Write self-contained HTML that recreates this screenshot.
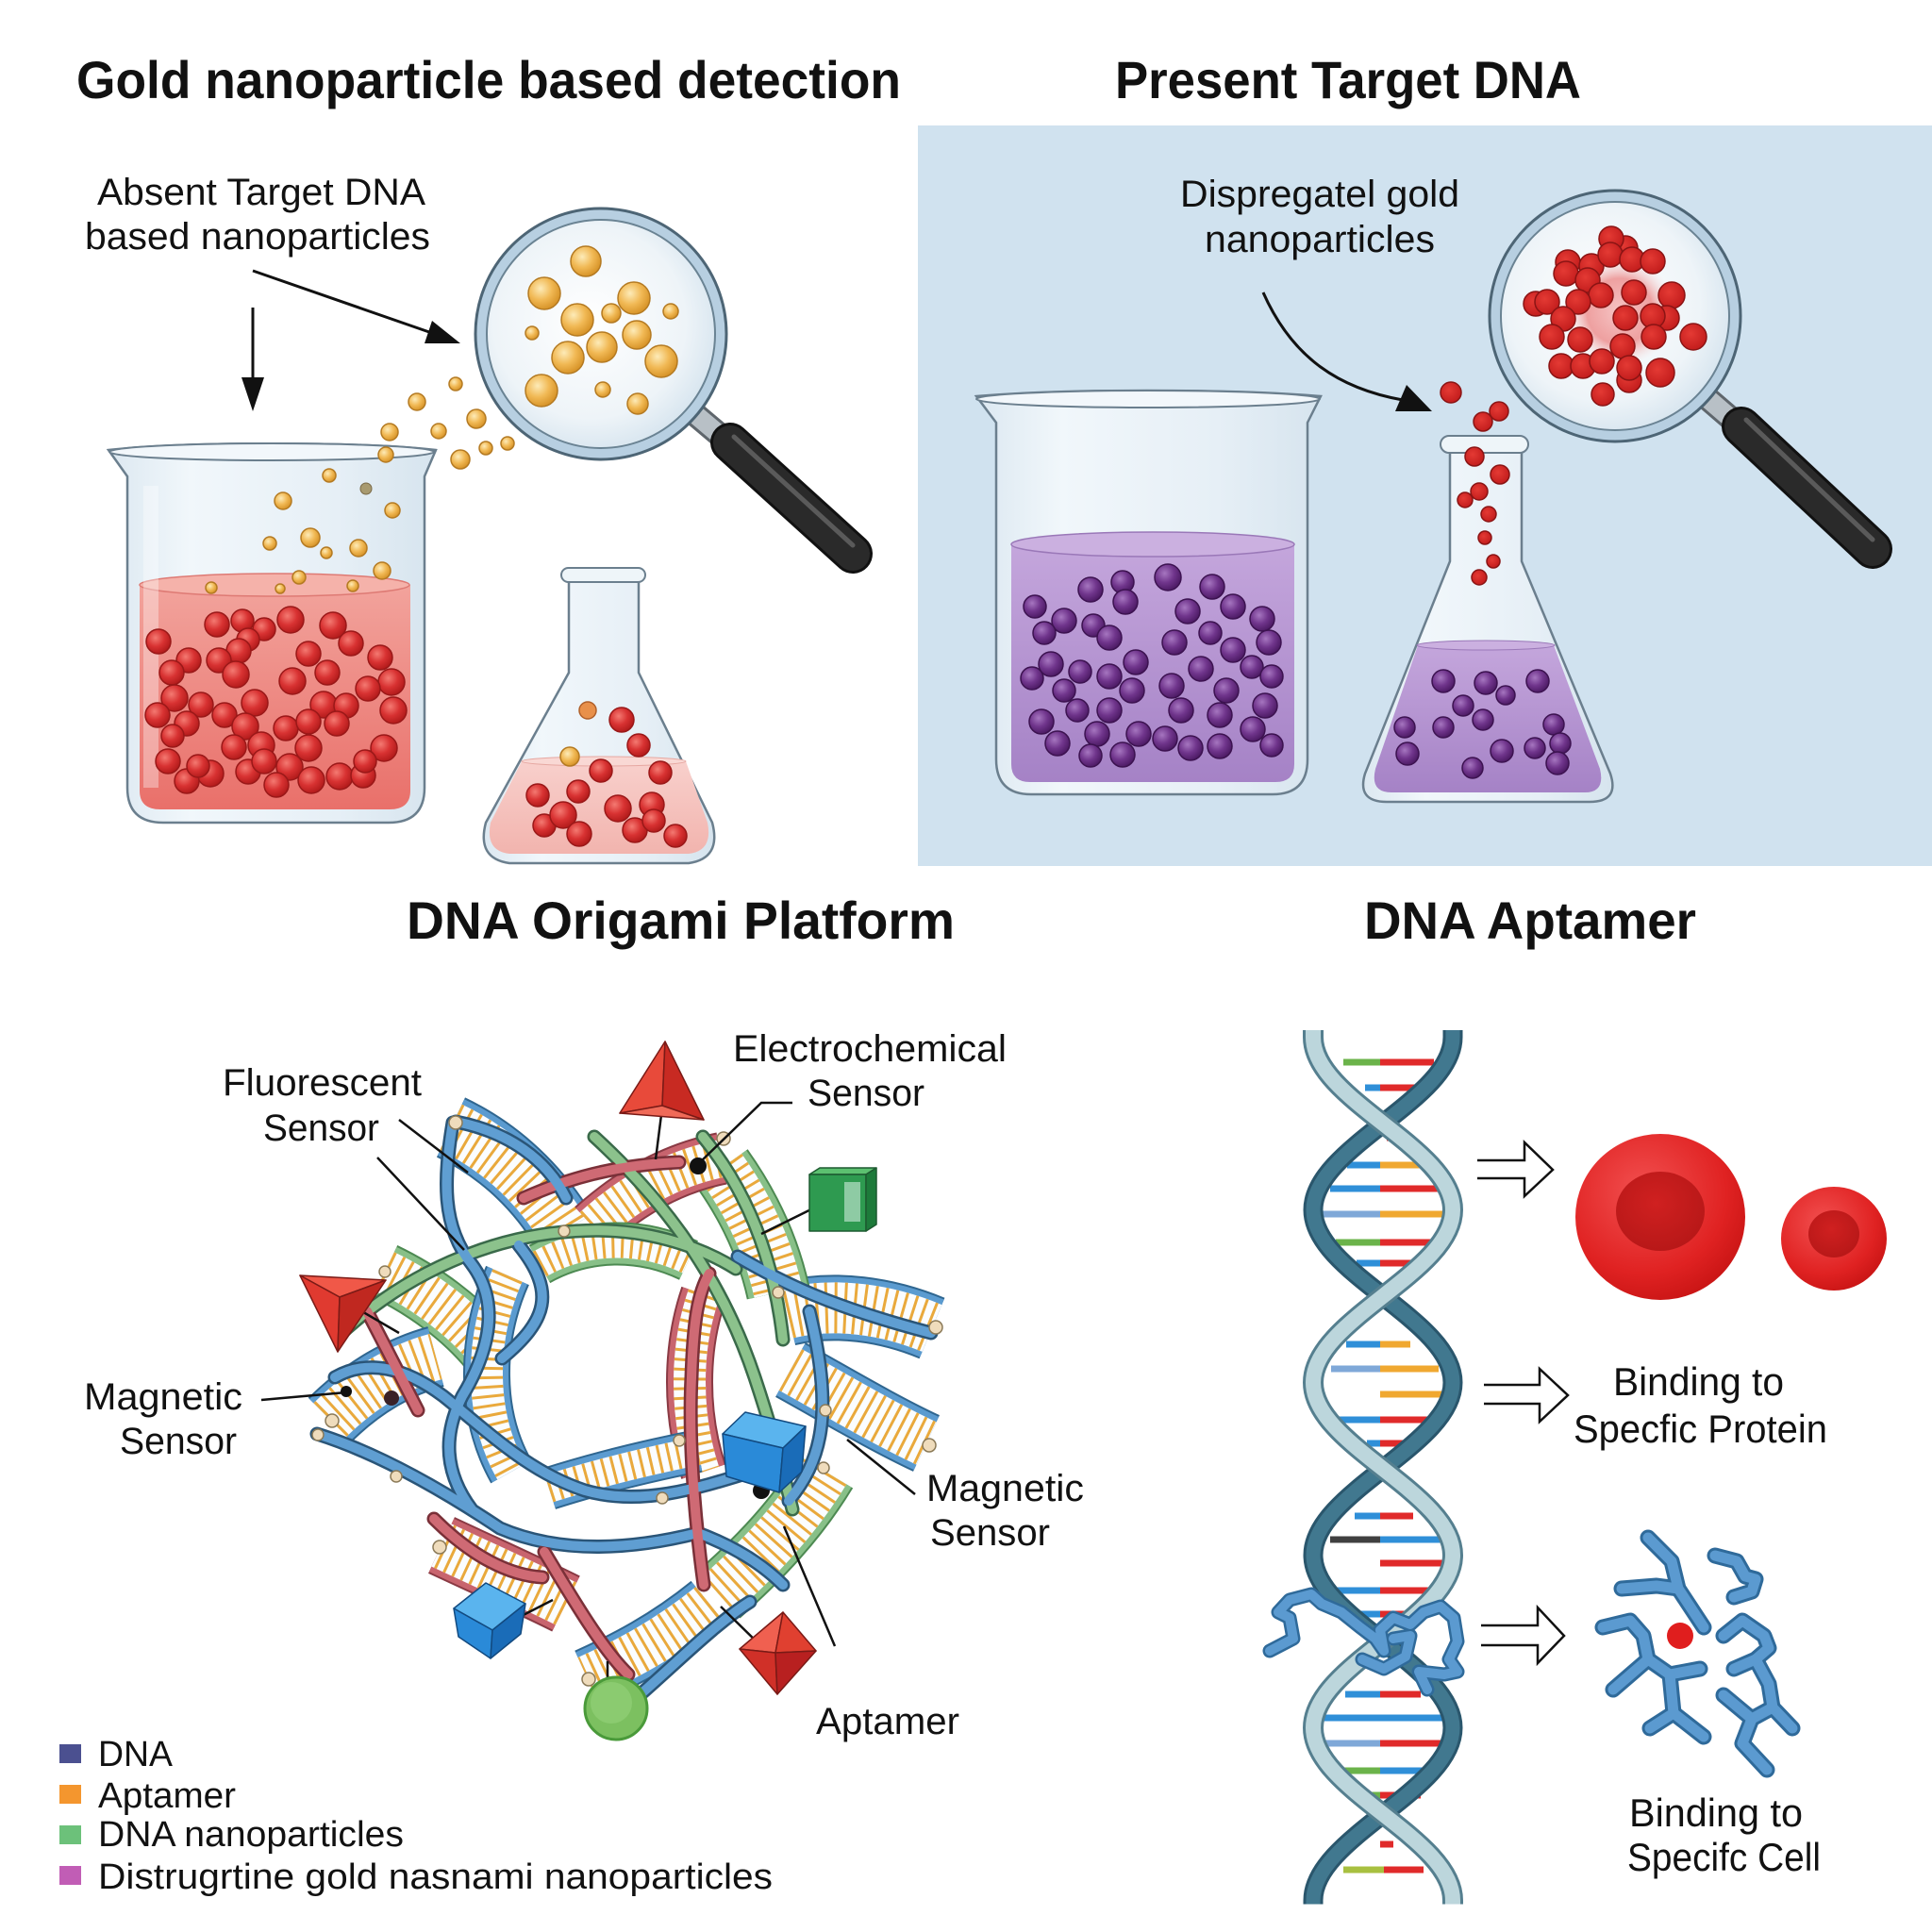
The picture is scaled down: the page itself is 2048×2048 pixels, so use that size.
<!DOCTYPE html>
<html><head><meta charset="utf-8"><style>html,body{margin:0;padding:0;background:#fff}svg{display:block}</style></head>
<body>
<svg width="2048" height="2048" viewBox="0 0 2048 2048" xmlns="http://www.w3.org/2000/svg" font-family="'Liberation Sans', sans-serif">
<defs>
<radialGradient id="gGold" cx="38%" cy="35%" r="65%"><stop offset="0" stop-color="#fdebb8"/><stop offset="0.55" stop-color="#f1b955"/><stop offset="1" stop-color="#d8952a"/></radialGradient>
<radialGradient id="gRed" cx="38%" cy="35%" r="65%"><stop offset="0" stop-color="#f47a72"/><stop offset="0.55" stop-color="#d83232"/><stop offset="1" stop-color="#b41c1c"/></radialGradient>
<radialGradient id="gRed2" cx="40%" cy="38%" r="65%"><stop offset="0" stop-color="#e43a34"/><stop offset="1" stop-color="#c21c1c"/></radialGradient>
<radialGradient id="gPur" cx="38%" cy="35%" r="65%"><stop offset="0" stop-color="#a676c0"/><stop offset="0.55" stop-color="#70358c"/><stop offset="1" stop-color="#4e1c66"/></radialGradient>
<radialGradient id="gLens" cx="45%" cy="45%" r="60%"><stop offset="0" stop-color="#ffffff"/><stop offset="0.7" stop-color="#eef4f8"/><stop offset="1" stop-color="#d4e3ee"/></radialGradient>
<radialGradient id="gGlow" cx="50%" cy="50%" r="50%"><stop offset="0" stop-color="#f6c4c4"/><stop offset="0.6" stop-color="#eea0a0"/><stop offset="1" stop-color="#f3dede" stop-opacity="0"/></radialGradient>
<linearGradient id="gGlass" x1="0" y1="0" x2="1" y2="0"><stop offset="0" stop-color="#dce8f1"/><stop offset="0.25" stop-color="#f1f7fb"/><stop offset="0.7" stop-color="#e6eff6"/><stop offset="1" stop-color="#d6e4ee"/></linearGradient>
<linearGradient id="gRedLiq" x1="0" y1="0" x2="0" y2="1"><stop offset="0" stop-color="#f2a39c"/><stop offset="1" stop-color="#e9706a"/></linearGradient>
<linearGradient id="gPinkLiq" x1="0" y1="0" x2="0" y2="1"><stop offset="0" stop-color="#f8d0cc"/><stop offset="1" stop-color="#f2b4ae"/></linearGradient>
<linearGradient id="gPurLiq" x1="0" y1="0" x2="0" y2="1"><stop offset="0" stop-color="#c4a6dc"/><stop offset="1" stop-color="#a582c6"/></linearGradient>
<radialGradient id="gCell" cx="40%" cy="35%" r="70%"><stop offset="0" stop-color="#f25050"/><stop offset="0.7" stop-color="#e02222"/><stop offset="1" stop-color="#c81414"/></radialGradient>
<radialGradient id="gCellIn" cx="45%" cy="40%" r="60%"><stop offset="0" stop-color="#d02020"/><stop offset="1" stop-color="#b81818"/></radialGradient>
<style>
.g{fill:url(#gGold);stroke:#b47a22;stroke-width:1.5}
.r{fill:url(#gRed);stroke:#9a1818;stroke-width:1.5}
.rr{fill:url(#gRed2);stroke:#8a1414;stroke-width:1.5}
.p{fill:url(#gPur);stroke:#3c1250;stroke-width:1.5}
.t{fill:#111}
.ln{stroke:#111;stroke-width:2.5;fill:none}
.kn{fill:#efdcbc;stroke:#8b7a58;stroke-width:1.5}
</style>
</defs>

<rect width="2048" height="2048" fill="#ffffff"/>
<rect x="973" y="133" width="1075" height="785" fill="#d0e2ef"/>

<!-- TITLES -->
<text x="81" y="104" font-size="56" font-weight="bold" class="t" textLength="874" lengthAdjust="spacingAndGlyphs">Gold nanoparticle based detection</text>
<text x="1182" y="104" font-size="56" font-weight="bold" class="t" textLength="494" lengthAdjust="spacingAndGlyphs">Present Target DNA</text>
<text x="431" y="995" font-size="56" font-weight="bold" class="t" textLength="581" lengthAdjust="spacingAndGlyphs">DNA Origami Platform</text>
<text x="1446" y="995" font-size="56" font-weight="bold" class="t" textLength="352" lengthAdjust="spacingAndGlyphs">DNA Aptamer</text>

<!-- ================= TOP LEFT ================= -->
<text x="103" y="217" font-size="40" class="t" textLength="348" lengthAdjust="spacingAndGlyphs">Absent Target DNA</text>
<text x="90" y="264" font-size="40" class="t" textLength="366" lengthAdjust="spacingAndGlyphs">based nanoparticles</text>
<line x1="268" y1="326" x2="268" y2="405" stroke="#111" stroke-width="3"/>
<polygon points="256,400 280,400 268,436" fill="#111"/>
<line x1="268" y1="287" x2="455" y2="352" stroke="#111" stroke-width="3"/>
<polygon points="488,364 458,340 450,364" fill="#111"/>

<!-- beaker 1 -->
<path d="M115,477 C200,468 380,468 462,477 L450,505 L450,835 Q450,872 412,872 L173,872 Q135,872 135,835 L135,505 Z" fill="url(#gGlass)" stroke="#6b7f8e" stroke-width="2.5"/>
<path d="M148,620 L148,838 Q148,858 170,858 L413,858 Q435,858 435,838 L435,620 Z" fill="url(#gRedLiq)"/>
<ellipse cx="291" cy="620" rx="143" ry="12" fill="#f5b2aa" stroke="#de7a74" stroke-width="1.5"/>
<ellipse cx="288" cy="479" rx="172" ry="9" fill="#f2f7fb" stroke="#6b7f8e" stroke-width="2"/>
<rect x="152" y="515" width="16" height="320" fill="#ffffff" opacity="0.35"/>
<g class="r">
<circle cx="168" cy="680" r="13"/><circle cx="230" cy="662" r="13"/><circle cx="257" cy="658" r="12"/><circle cx="280" cy="667" r="12"/><circle cx="308" cy="657" r="14"/><circle cx="353" cy="663" r="14"/><circle cx="263" cy="678" r="12"/><circle cx="253" cy="690" r="13"/><circle cx="200" cy="700" r="13"/><circle cx="182" cy="713" r="13"/><circle cx="232" cy="700" r="13"/><circle cx="250" cy="715" r="14"/><circle cx="327" cy="693" r="13"/><circle cx="372" cy="682" r="13"/><circle cx="403" cy="697" r="13"/><circle cx="310" cy="722" r="14"/><circle cx="347" cy="713" r="13"/><circle cx="415" cy="723" r="14"/><circle cx="390" cy="730" r="13"/><circle cx="185" cy="740" r="14"/><circle cx="213" cy="747" r="13"/><circle cx="167" cy="758" r="13"/><circle cx="198" cy="767" r="13"/><circle cx="238" cy="758" r="13"/><circle cx="270" cy="745" r="14"/><circle cx="260" cy="770" r="14"/><circle cx="343" cy="747" r="14"/><circle cx="367" cy="748" r="13"/><circle cx="417" cy="753" r="14"/><circle cx="303" cy="772" r="13"/><circle cx="327" cy="765" r="13"/><circle cx="357" cy="767" r="13"/><circle cx="183" cy="780" r="12"/><circle cx="248" cy="792" r="13"/><circle cx="277" cy="790" r="14"/><circle cx="327" cy="793" r="14"/><circle cx="407" cy="793" r="14"/><circle cx="178" cy="807" r="13"/><circle cx="223" cy="820" r="14"/><circle cx="198" cy="828" r="13"/><circle cx="263" cy="818" r="13"/><circle cx="280" cy="807" r="13"/><circle cx="307" cy="813" r="14"/><circle cx="330" cy="827" r="14"/><circle cx="293" cy="832" r="13"/><circle cx="360" cy="823" r="14"/><circle cx="385" cy="822" r="13"/><circle cx="387" cy="807" r="12"/><circle cx="210" cy="812" r="12"/>
</g>
<g class="g">
<circle cx="413" cy="458" r="9"/><circle cx="465" cy="457" r="8"/><circle cx="409" cy="482" r="8"/><circle cx="488" cy="487" r="10"/><circle cx="515" cy="475" r="7"/><circle cx="538" cy="470" r="7"/><circle cx="483" cy="407" r="7"/><circle cx="442" cy="426" r="9"/><circle cx="505" cy="444" r="10"/><circle cx="349" cy="504" r="7"/><circle cx="300" cy="531" r="9"/><circle cx="416" cy="541" r="8"/><circle cx="329" cy="570" r="10"/><circle cx="286" cy="576" r="7"/><circle cx="346" cy="586" r="6"/><circle cx="380" cy="581" r="9"/><circle cx="405" cy="605" r="9"/><circle cx="317" cy="612" r="7"/><circle cx="224" cy="623" r="6"/><circle cx="297" cy="624" r="5"/><circle cx="374" cy="621" r="6"/>
</g>
<circle cx="388" cy="518" r="6" fill="#a89a70" stroke="#7a6a48"/>

<!-- magnifier 1 -->
<line x1="739" y1="441" x2="777" y2="473" stroke="#5f666c" stroke-width="26" stroke-linecap="round"/>
<line x1="739" y1="441" x2="777" y2="473" stroke="#b8c0c6" stroke-width="20"/>
<line x1="774" y1="469" x2="904" y2="587" stroke="#111" stroke-width="42" stroke-linecap="round"/>
<line x1="774" y1="469" x2="904" y2="587" stroke="#2a2a2a" stroke-width="36" stroke-linecap="round"/>
<line x1="778" y1="463" x2="904" y2="578" stroke="#666" stroke-width="5" stroke-linecap="round" opacity="0.8"/>
<circle cx="637" cy="354" r="133" fill="#b7cfe1" stroke="#4d6575" stroke-width="3"/>
<circle cx="637" cy="354" r="121" fill="url(#gLens)" stroke="#6a8393" stroke-width="2"/>
<g class="g">
<circle cx="621" cy="277" r="16"/><circle cx="577" cy="311" r="17"/><circle cx="672" cy="316" r="17"/><circle cx="612" cy="339" r="17"/><circle cx="648" cy="332" r="10"/><circle cx="711" cy="330" r="8"/><circle cx="564" cy="353" r="7"/><circle cx="675" cy="355" r="15"/><circle cx="638" cy="368" r="16"/><circle cx="602" cy="379" r="17"/><circle cx="701" cy="383" r="17"/><circle cx="574" cy="414" r="17"/><circle cx="639" cy="413" r="8"/><circle cx="676" cy="428" r="11"/>
</g>

<!-- flask 1 -->
<path d="M603,613 L603,713 L515,872 Q505,910 540,915 L730,915 Q765,910 755,872 L677,713 L677,613 Z" fill="url(#gGlass)" stroke="#6b7f8e" stroke-width="2.5"/>
<path d="M553,807 L727,807 L750,872 Q756,902 730,905 L540,905 Q514,902 520,872 Z" fill="url(#gPinkLiq)"/>
<ellipse cx="640" cy="807" rx="87" ry="5" fill="#f9d8d4" stroke="#e6a8a2" stroke-width="1"/>
<rect x="595" y="602" width="89" height="15" rx="7.5" fill="#eef5f9" stroke="#6b7f8e" stroke-width="2"/>
<circle cx="623" cy="753" r="9" fill="#e8904a" stroke="#b0602a" stroke-width="1.5"/>
<circle cx="604" cy="802" r="10" class="g"/>
<g class="r">
<circle cx="659" cy="763" r="13"/><circle cx="677" cy="790" r="12"/><circle cx="637" cy="817" r="12"/><circle cx="700" cy="819" r="12"/><circle cx="570" cy="843" r="12"/><circle cx="613" cy="839" r="12"/><circle cx="655" cy="857" r="14"/><circle cx="691" cy="853" r="13"/><circle cx="577" cy="875" r="12"/><circle cx="597" cy="864" r="14"/><circle cx="614" cy="884" r="13"/><circle cx="673" cy="880" r="13"/><circle cx="693" cy="870" r="12"/><circle cx="716" cy="886" r="12"/>
</g>

<!-- ================= TOP RIGHT ================= -->
<text x="1251" y="219" font-size="40" class="t" textLength="296" lengthAdjust="spacingAndGlyphs">Dispregatel gold</text>
<text x="1277" y="267" font-size="40" class="t" textLength="244" lengthAdjust="spacingAndGlyphs">nanoparticles</text>
<path d="M1339,310 C1370,380 1420,412 1487,424" fill="none" stroke="#111" stroke-width="3"/>
<polygon points="1518,436 1491,408 1479,436" fill="#111"/>

<!-- beaker 2 -->
<path d="M1035,420 C1130,412 1300,412 1400,420 L1386,448 L1386,805 Q1386,842 1349,842 L1093,842 Q1056,842 1056,805 L1056,448 Z" fill="url(#gGlass)" stroke="#6b7f8e" stroke-width="2.5"/>
<path d="M1072,577 L1072,810 Q1072,829 1092,829 L1352,829 Q1372,829 1372,810 L1372,577 Z" fill="url(#gPurLiq)"/>
<ellipse cx="1222" cy="577" rx="150" ry="13" fill="#cbb0e0" stroke="#9a78b8" stroke-width="1.5"/>
<ellipse cx="1217" cy="423" rx="182" ry="9" fill="#f2f7fb" stroke="#6b7f8e" stroke-width="2"/>
<g class="p">
<circle cx="1156" cy="625" r="13"/><circle cx="1190" cy="617" r="12"/><circle cx="1238" cy="612" r="14"/><circle cx="1285" cy="622" r="13"/><circle cx="1097" cy="643" r="12"/><circle cx="1193" cy="638" r="13"/><circle cx="1259" cy="648" r="13"/><circle cx="1307" cy="643" r="13"/><circle cx="1338" cy="656" r="13"/><circle cx="1128" cy="658" r="13"/><circle cx="1159" cy="663" r="12"/><circle cx="1107" cy="671" r="12"/><circle cx="1176" cy="676" r="13"/><circle cx="1245" cy="681" r="13"/><circle cx="1283" cy="671" r="12"/><circle cx="1345" cy="681" r="13"/><circle cx="1307" cy="689" r="13"/><circle cx="1114" cy="704" r="13"/><circle cx="1145" cy="712" r="12"/><circle cx="1094" cy="719" r="12"/><circle cx="1204" cy="702" r="13"/><circle cx="1273" cy="709" r="13"/><circle cx="1327" cy="707" r="12"/><circle cx="1348" cy="717" r="12"/><circle cx="1176" cy="717" r="13"/><circle cx="1242" cy="727" r="13"/><circle cx="1128" cy="732" r="12"/><circle cx="1200" cy="732" r="13"/><circle cx="1300" cy="732" r="13"/><circle cx="1341" cy="748" r="13"/><circle cx="1104" cy="765" r="13"/><circle cx="1142" cy="753" r="12"/><circle cx="1176" cy="753" r="13"/><circle cx="1252" cy="753" r="13"/><circle cx="1293" cy="758" r="13"/><circle cx="1207" cy="778" r="13"/><circle cx="1163" cy="778" r="13"/><circle cx="1328" cy="773" r="13"/><circle cx="1121" cy="788" r="13"/><circle cx="1235" cy="783" r="13"/><circle cx="1262" cy="793" r="13"/><circle cx="1293" cy="791" r="13"/><circle cx="1156" cy="801" r="12"/><circle cx="1348" cy="790" r="12"/><circle cx="1190" cy="800" r="13"/>
</g>

<!-- flask 2 -->
<path d="M1537,478 L1537,595 L1447,820 Q1438,850 1470,850 L1685,850 Q1717,850 1707,820 L1613,595 L1613,478 Z" fill="url(#gGlass)" stroke="#6b7f8e" stroke-width="2.5"/>
<path d="M1503,684 L1647,684 L1696,815 Q1702,840 1680,840 L1475,840 Q1452,840 1458,815 Z" fill="url(#gPurLiq)"/>
<ellipse cx="1575" cy="684" rx="73" ry="5" fill="#cbb0e0" stroke="#9a78b8" stroke-width="1"/>
<rect x="1527" y="462" width="93" height="18" rx="9" fill="#eef5f9" stroke="#6b7f8e" stroke-width="2"/>
<g class="p">
<circle cx="1530" cy="722" r="12"/><circle cx="1575" cy="724" r="12"/><circle cx="1630" cy="722" r="12"/><circle cx="1551" cy="748" r="11"/><circle cx="1596" cy="737" r="10"/><circle cx="1489" cy="771" r="11"/><circle cx="1530" cy="771" r="11"/><circle cx="1572" cy="763" r="11"/><circle cx="1647" cy="768" r="11"/><circle cx="1492" cy="799" r="12"/><circle cx="1592" cy="796" r="12"/><circle cx="1627" cy="793" r="11"/><circle cx="1654" cy="788" r="11"/><circle cx="1561" cy="814" r="11"/><circle cx="1651" cy="809" r="12"/>
</g>
<g class="rr">
<circle cx="1538" cy="416" r="11"/><circle cx="1572" cy="447" r="10"/><circle cx="1589" cy="436" r="10"/><circle cx="1563" cy="484" r="10"/><circle cx="1590" cy="503" r="10"/><circle cx="1568" cy="521" r="9"/><circle cx="1553" cy="530" r="8"/><circle cx="1578" cy="545" r="8"/><circle cx="1574" cy="570" r="7"/><circle cx="1583" cy="595" r="7"/><circle cx="1568" cy="612" r="8"/>
</g>

<!-- magnifier 2 -->
<line x1="1805" y1="418" x2="1848" y2="455" stroke="#5f666c" stroke-width="26" stroke-linecap="round"/>
<line x1="1805" y1="418" x2="1848" y2="455" stroke="#b8c0c6" stroke-width="20"/>
<line x1="1846" y1="452" x2="1985" y2="582" stroke="#111" stroke-width="42" stroke-linecap="round"/>
<line x1="1846" y1="452" x2="1985" y2="582" stroke="#2a2a2a" stroke-width="36" stroke-linecap="round"/>
<line x1="1851" y1="445" x2="1985" y2="572" stroke="#666" stroke-width="5" stroke-linecap="round" opacity="0.8"/>
<circle cx="1712" cy="335" r="133" fill="#b7cfe1" stroke="#4d6575" stroke-width="3"/>
<circle cx="1712" cy="335" r="121" fill="url(#gLens)" stroke="#6a8393" stroke-width="2"/>
<circle cx="1717" cy="330" r="58" fill="url(#gGlow)"/>
<g class="rr">
<circle cx="1723" cy="263" r="13"/><circle cx="1708" cy="253" r="13"/><circle cx="1662" cy="278" r="13"/><circle cx="1687" cy="282" r="13"/><circle cx="1707" cy="270" r="13"/><circle cx="1730" cy="275" r="13"/><circle cx="1752" cy="277" r="13"/><circle cx="1660" cy="290" r="13"/><circle cx="1683" cy="297" r="13"/><circle cx="1697" cy="313" r="13"/><circle cx="1732" cy="310" r="13"/><circle cx="1772" cy="313" r="14"/><circle cx="1628" cy="322" r="13"/><circle cx="1640" cy="320" r="13"/><circle cx="1673" cy="320" r="13"/><circle cx="1723" cy="337" r="13"/><circle cx="1767" cy="337" r="13"/><circle cx="1752" cy="335" r="13"/><circle cx="1657" cy="338" r="13"/><circle cx="1645" cy="357" r="13"/><circle cx="1675" cy="360" r="13"/><circle cx="1720" cy="367" r="13"/><circle cx="1753" cy="357" r="13"/><circle cx="1795" cy="357" r="14"/><circle cx="1655" cy="388" r="13"/><circle cx="1678" cy="388" r="13"/><circle cx="1698" cy="383" r="13"/><circle cx="1727" cy="403" r="13"/><circle cx="1727" cy="390" r="13"/><circle cx="1760" cy="395" r="15"/><circle cx="1699" cy="418" r="12"/>
</g>

<!-- ================= BOTTOM LEFT: ORIGAMI ================= -->
<g fill="none">
<g stroke-linecap="butt">
<path d="M478,1195 C520,1215 565,1250 598,1305" stroke="#2f6690" stroke-width="70"/>
<path d="M478,1195 C520,1215 565,1250 598,1305" stroke="#5b9bd0" stroke-width="66"/>
<path d="M478,1195 C520,1215 565,1250 598,1305" stroke="#fbfdff" stroke-width="54"/>
<path d="M478,1195 C520,1215 565,1250 598,1305" stroke="#e9a93c" stroke-width="54" stroke-dasharray="3 7"/>

<path d="M408,1348 C450,1368 490,1398 518,1432" stroke="#4d8a52" stroke-width="62"/>
<path d="M408,1348 C450,1368 490,1398 518,1432" stroke="#88c088" stroke-width="58"/>
<path d="M408,1348 C450,1368 490,1398 518,1432" stroke="#fbfdff" stroke-width="46"/>
<path d="M408,1348 C450,1368 490,1398 518,1432" stroke="#e9a93c" stroke-width="46" stroke-dasharray="3 7"/>

<path d="M350,1505 C385,1470 425,1448 462,1438" stroke="#2f6690" stroke-width="66"/>
<path d="M350,1505 C385,1470 425,1448 462,1438" stroke="#5b9bd0" stroke-width="62"/>
<path d="M350,1505 C385,1470 425,1448 462,1438" stroke="#fbfdff" stroke-width="50"/>
<path d="M350,1505 C385,1470 425,1448 462,1438" stroke="#e9a93c" stroke-width="50" stroke-dasharray="3 7"/>

<path d="M600,1700 C560,1680 515,1660 468,1638" stroke="#8a3a44" stroke-width="66"/>
<path d="M600,1700 C560,1680 515,1660 468,1638" stroke="#c8646e" stroke-width="62"/>
<path d="M600,1700 C560,1680 515,1660 468,1638" stroke="#fbfdff" stroke-width="50"/>
<path d="M600,1700 C560,1680 515,1660 468,1638" stroke="#e9a93c" stroke-width="50" stroke-dasharray="3 7"/>

<path d="M752,1700 C705,1738 662,1760 622,1778" stroke="#2f6690" stroke-width="62"/>
<path d="M752,1700 C705,1738 662,1760 622,1778" stroke="#5b9bd0" stroke-width="58"/>
<path d="M752,1700 C705,1738 662,1760 622,1778" stroke="#fbfdff" stroke-width="46"/>
<path d="M752,1700 C705,1738 662,1760 622,1778" stroke="#e9a93c" stroke-width="46" stroke-dasharray="3 7"/>

<path d="M875,1560 C845,1610 805,1652 762,1690" stroke="#4d8a52" stroke-width="68"/>
<path d="M875,1560 C845,1610 805,1652 762,1690" stroke="#88c088" stroke-width="64"/>
<path d="M875,1560 C845,1610 805,1652 762,1690" stroke="#fbfdff" stroke-width="52"/>
<path d="M875,1560 C845,1610 805,1652 762,1690" stroke="#e9a93c" stroke-width="52" stroke-dasharray="3 7"/>

<path d="M838,1452 C885,1478 935,1508 982,1530" stroke="#2f6690" stroke-width="66"/>
<path d="M838,1452 C885,1478 935,1508 982,1530" stroke="#5b9bd0" stroke-width="62"/>
<path d="M838,1452 C885,1478 935,1508 982,1530" stroke="#fbfdff" stroke-width="50"/>
<path d="M838,1452 C885,1478 935,1508 982,1530" stroke="#e9a93c" stroke-width="50" stroke-dasharray="3 7"/>

<path d="M835,1392 C885,1380 940,1388 988,1408" stroke="#2f6690" stroke-width="70"/>
<path d="M835,1392 C885,1380 940,1388 988,1408" stroke="#5b9bd0" stroke-width="66"/>
<path d="M835,1392 C885,1380 940,1388 988,1408" stroke="#fbfdff" stroke-width="54"/>
<path d="M835,1392 C885,1380 940,1388 988,1408" stroke="#e9a93c" stroke-width="54" stroke-dasharray="3 7"/>

<path d="M765,1238 C795,1280 815,1325 825,1370" stroke="#4d8a52" stroke-width="68"/>
<path d="M765,1238 C795,1280 815,1325 825,1370" stroke="#88c088" stroke-width="64"/>
<path d="M765,1238 C795,1280 815,1325 825,1370" stroke="#fbfdff" stroke-width="52"/>
<path d="M765,1238 C795,1280 815,1325 825,1370" stroke="#e9a93c" stroke-width="52" stroke-dasharray="3 7"/>

<path d="M628,1300 C670,1262 715,1238 765,1228" stroke="#8a3a44" stroke-width="56"/>
<path d="M628,1300 C670,1262 715,1238 765,1228" stroke="#c8646e" stroke-width="52"/>
<path d="M628,1300 C670,1262 715,1238 765,1228" stroke="#fbfdff" stroke-width="40"/>
<path d="M628,1300 C670,1262 715,1238 765,1228" stroke="#e9a93c" stroke-width="40" stroke-dasharray="3 7"/>

<path d="M538,1352 C508,1420 508,1500 542,1560" stroke="#2f6690" stroke-width="50"/>
<path d="M538,1352 C508,1420 508,1500 542,1560" stroke="#5b9bd0" stroke-width="46"/>
<path d="M538,1352 C508,1420 508,1500 542,1560" stroke="#fbfdff" stroke-width="34"/>
<path d="M538,1352 C508,1420 508,1500 542,1560" stroke="#e9a93c" stroke-width="34" stroke-dasharray="3 7"/>

<path d="M746,1372 C726,1430 726,1500 746,1560" stroke="#8a3a44" stroke-width="50"/>
<path d="M746,1372 C726,1430 726,1500 746,1560" stroke="#c8646e" stroke-width="46"/>
<path d="M746,1372 C726,1430 726,1500 746,1560" stroke="#fbfdff" stroke-width="34"/>
<path d="M746,1372 C726,1430 726,1500 746,1560" stroke="#e9a93c" stroke-width="34" stroke-dasharray="3 7"/>

<path d="M572,1340 C622,1312 680,1312 730,1336" stroke="#4d8a52" stroke-width="46"/>
<path d="M572,1340 C622,1312 680,1312 730,1336" stroke="#88c088" stroke-width="42"/>
<path d="M572,1340 C622,1312 680,1312 730,1336" stroke="#fbfdff" stroke-width="30"/>
<path d="M572,1340 C622,1312 680,1312 730,1336" stroke="#e9a93c" stroke-width="30" stroke-dasharray="3 7"/>

<path d="M582,1578 C632,1562 690,1548 740,1538" stroke="#2f6690" stroke-width="46"/>
<path d="M582,1578 C632,1562 690,1548 740,1538" stroke="#5b9bd0" stroke-width="42"/>
<path d="M582,1578 C632,1562 690,1548 740,1538" stroke="#fbfdff" stroke-width="30"/>
<path d="M582,1578 C632,1562 690,1548 740,1538" stroke="#e9a93c" stroke-width="30" stroke-dasharray="3 7"/>
</g>

<g stroke-width="15" stroke-linecap="round">
<path stroke="#3a6a4a" d="M360,1415 C430,1350 520,1310 610,1305 C680,1300 740,1320 780,1345"/>
<path stroke="#3a6a4a" d="M630,1205 C690,1260 760,1340 800,1460 C820,1520 830,1560 840,1600"/>
<path stroke="#3a6a4a" d="M745,1205 C790,1260 820,1330 830,1420"/>
<path stroke="#2a5578" d="M336,1520 C400,1540 470,1580 530,1620 C600,1650 680,1640 740,1625 C780,1640 810,1660 830,1680"/>
<path stroke="#2a5578" d="M355,1460 C390,1440 430,1450 470,1480 C520,1520 560,1560 620,1580 C690,1600 760,1570 830,1550"/>
<path stroke="#7a3038" d="M555,1270 C600,1250 650,1235 720,1232"/>
<path stroke="#7a3038" d="M746,1680 C735,1600 730,1520 733,1460 C735,1400 740,1370 752,1350"/>
<path stroke="#7a3038" d="M460,1610 C500,1650 540,1670 575,1672"/>
<path stroke="#7a3038" d="M577,1645 C610,1700 640,1750 666,1775"/>
<path stroke="#2a5578" d="M679,1796 C720,1760 760,1720 795,1698"/>
<path stroke="#2a5578" d="M550,1320 C590,1370 580,1400 532,1440"/>
<path stroke="#2a5578" d="M782,1332 C830,1360 880,1385 987,1413"/>
<path stroke="#2a5578" d="M836,1591 C870,1550 885,1500 858,1390"/>
<path stroke="#7a3038" d="M389,1390 C410,1430 425,1460 443,1495"/>
<path stroke="#2a5578" d="M480,1190 C470,1250 468,1300 500,1340 C530,1380 520,1430 490,1480 C470,1520 470,1560 500,1600"/>
<path stroke="#2a5578" d="M483,1189 C540,1200 580,1230 600,1270"/>
</g>
<g stroke-width="10" stroke-linecap="round">
<path stroke="#8cc28c" d="M360,1415 C430,1350 520,1310 610,1305 C680,1300 740,1320 780,1345"/>
<path stroke="#8cc28c" d="M630,1205 C690,1260 760,1340 800,1460 C820,1520 830,1560 840,1600"/>
<path stroke="#8cc28c" d="M745,1205 C790,1260 820,1330 830,1420"/>
<path stroke="#5f9ed2" d="M336,1520 C400,1540 470,1580 530,1620 C600,1650 680,1640 740,1625 C780,1640 810,1660 830,1680"/>
<path stroke="#5f9ed2" d="M355,1460 C390,1440 430,1450 470,1480 C520,1520 560,1560 620,1580 C690,1600 760,1570 830,1550"/>
<path stroke="#cf6a74" d="M555,1270 C600,1250 650,1235 720,1232"/>
<path stroke="#cf6a74" d="M746,1680 C735,1600 730,1520 733,1460 C735,1400 740,1370 752,1350"/>
<path stroke="#cf6a74" d="M460,1610 C500,1650 540,1670 575,1672"/>
<path stroke="#cf6a74" d="M577,1645 C610,1700 640,1750 666,1775"/>
<path stroke="#5f9ed2" d="M679,1796 C720,1760 760,1720 795,1698"/>
<path stroke="#5f9ed2" d="M550,1320 C590,1370 580,1400 532,1440"/>
<path stroke="#5f9ed2" d="M782,1332 C830,1360 880,1385 987,1413"/>
<path stroke="#5f9ed2" d="M836,1591 C870,1550 885,1500 858,1390"/>
<path stroke="#cf6a74" d="M389,1390 C410,1430 425,1460 443,1495"/>
<path stroke="#5f9ed2" d="M480,1190 C470,1250 468,1300 500,1340 C530,1380 520,1430 490,1480 C470,1520 470,1560 500,1600"/>
<path stroke="#5f9ed2" d="M483,1189 C540,1200 580,1230 600,1270"/>
</g>
</g>
<g class="kn">
<circle cx="483" cy="1190" r="7"/><circle cx="767" cy="1207" r="7"/><circle cx="992" cy="1407" r="7"/><circle cx="985" cy="1532" r="7"/><circle cx="352" cy="1506" r="7"/><circle cx="337" cy="1521" r="6"/><circle cx="466" cy="1640" r="7"/><circle cx="624" cy="1780" r="7"/><circle cx="702" cy="1588" r="6"/><circle cx="720" cy="1527" r="6"/><circle cx="873" cy="1556" r="6"/><circle cx="875" cy="1495" r="6"/><circle cx="420" cy="1565" r="6"/><circle cx="598" cy="1305" r="6"/><circle cx="408" cy="1348" r="6"/><circle cx="825" cy="1370" r="6"/>
</g>

<g class="ln">
<line x1="423" y1="1187" x2="496" y2="1243"/>
<line x1="400" y1="1227" x2="492" y2="1325"/>
<polyline points="840,1169 807,1169 740,1234"/>
<line x1="876" y1="1274" x2="807" y2="1308"/>
<line x1="277" y1="1484" x2="367" y2="1476"/>
<line x1="970" y1="1584" x2="898" y2="1526"/>
<line x1="885" y1="1745" x2="831" y2="1618"/>
<line x1="809" y1="1747" x2="764" y2="1703"/>
<line x1="539" y1="1720" x2="586" y2="1696"/>
<line x1="644" y1="1761" x2="644" y2="1790"/>
<line x1="702" y1="1174" x2="695" y2="1229"/>
<line x1="380" y1="1388" x2="423" y2="1413"/>
</g>
<circle cx="740" cy="1236" r="9" fill="#111"/>
<circle cx="367" cy="1475" r="6" fill="#111"/>
<circle cx="415" cy="1482" r="8" fill="#3a2228"/>
<circle cx="807" cy="1580" r="9" fill="#111"/>

<g stroke="#7a1a16" stroke-width="1.5" stroke-linejoin="round">
<polygon points="705,1104 657,1180 702,1172" fill="#e84a3a"/>
<polygon points="705,1104 702,1172 746,1187" fill="#c82a22"/>
<polygon points="657,1180 702,1172 746,1187" fill="#f06a58"/>
<polygon points="318,1352 409,1357 360,1375" fill="#f05848"/>
<polygon points="318,1352 360,1375 358,1433" fill="#e03a30"/>
<polygon points="409,1357 360,1375 358,1433" fill="#c02820"/>
<polygon points="830,1709 784,1748 822,1752" fill="#f06050"/>
<polygon points="830,1709 822,1752 865,1750" fill="#e04030"/>
<polygon points="784,1748 822,1752 824,1796" fill="#d03028"/>
<polygon points="822,1752 865,1750 824,1796" fill="#b82020"/>
</g>
<g stroke="#1d5a30" stroke-width="1.5" stroke-linejoin="round">
<polygon points="858,1245 869,1238 929,1238 918,1245" fill="#5cc070"/>
<rect x="858" y="1245" width="60" height="60" fill="#2e9a50"/>
<polygon points="918,1245 929,1238 929,1298 918,1305" fill="#1d7a3a"/>
</g>
<rect x="895" y="1253" width="17" height="42" fill="#b8e0c8" opacity="0.7"/>
<g stroke="#124a80" stroke-width="1.5" stroke-linejoin="round">
<polygon points="790,1497 854,1512 830,1535 766,1520" fill="#5ab4ee"/>
<polygon points="766,1520 830,1535 826,1582 770,1565" fill="#2a8ad8"/>
<polygon points="830,1535 854,1512 850,1560 826,1582" fill="#1a6cb8"/>
<polygon points="481,1705 515,1678 557,1700 522,1728" fill="#5ab4ee"/>
<polygon points="481,1705 522,1728 520,1758 486,1735" fill="#2a8ad8"/>
<polygon points="522,1728 557,1700 552,1732 520,1758" fill="#1a6cb8"/>
</g>
<circle cx="653" cy="1811" r="33" fill="#7cc060" stroke="#4a9a3a" stroke-width="3"/>
<circle cx="648" cy="1805" r="22" fill="#92d078" opacity="0.7"/>

<g class="t" font-size="40">
<text x="236" y="1161" textLength="211" lengthAdjust="spacingAndGlyphs">Fluorescent</text>
<text x="279" y="1209" textLength="123" lengthAdjust="spacingAndGlyphs">Sensor</text>
<text x="777" y="1125" textLength="290" lengthAdjust="spacingAndGlyphs">Electrochemical</text>
<text x="856" y="1172" textLength="124" lengthAdjust="spacingAndGlyphs">Sensor</text>
<text x="89" y="1494" textLength="168" lengthAdjust="spacingAndGlyphs">Magnetic</text>
<text x="127" y="1541" textLength="124" lengthAdjust="spacingAndGlyphs">Sensor</text>
<text x="982" y="1591" textLength="167" lengthAdjust="spacingAndGlyphs">Magnetic</text>
<text x="986" y="1638" textLength="127" lengthAdjust="spacingAndGlyphs">Sensor</text>
<text x="865" y="1838" textLength="152" lengthAdjust="spacingAndGlyphs">Aptamer</text>
</g>

<rect x="63" y="1849" width="23" height="20" fill="#4b5090"/>
<rect x="63" y="1892" width="23" height="20" fill="#f4962e"/>
<rect x="63" y="1935" width="23" height="20" fill="#6cc17a"/>
<rect x="63" y="1978" width="23" height="20" fill="#c15db5"/>
<g class="t" font-size="38">
<text x="104" y="1872" textLength="79" lengthAdjust="spacingAndGlyphs">DNA</text>
<text x="104" y="1916" textLength="146" lengthAdjust="spacingAndGlyphs">Aptamer</text>
<text x="104" y="1957" textLength="324" lengthAdjust="spacingAndGlyphs">DNA nanoparticles</text>
<text x="104" y="2002" textLength="715" lengthAdjust="spacingAndGlyphs">Distrugrtine gold nasnami nanoparticles</text>
</g>

<!-- ================= BOTTOM RIGHT: APTAMER ================= -->
<g stroke-width="7">
<line x1="1424" y1="1126" x2="1463" y2="1126" stroke="#6bb34a"/><line x1="1463" y1="1126" x2="1520" y2="1126" stroke="#e02a2a"/>
<line x1="1447" y1="1153" x2="1463" y2="1153" stroke="#2f8fd8"/><line x1="1463" y1="1153" x2="1502" y2="1153" stroke="#e02a2a"/>
<line x1="1470" y1="1206" x2="1481" y2="1206" stroke="#e02a2a"/>
<line x1="1428" y1="1235" x2="1463" y2="1235" stroke="#2f8fd8"/><line x1="1463" y1="1235" x2="1513" y2="1235" stroke="#f0a830"/>
<line x1="1410" y1="1260" x2="1463" y2="1260" stroke="#2f8fd8"/><line x1="1463" y1="1260" x2="1531" y2="1260" stroke="#e02a2a"/>
<line x1="1398" y1="1287" x2="1463" y2="1287" stroke="#7fa8d8"/><line x1="1463" y1="1287" x2="1534" y2="1287" stroke="#f0a830"/>
<line x1="1416" y1="1317" x2="1463" y2="1317" stroke="#6bb34a"/><line x1="1463" y1="1317" x2="1522" y2="1317" stroke="#e02a2a"/>
<line x1="1438" y1="1339" x2="1463" y2="1339" stroke="#2f8fd8"/><line x1="1463" y1="1339" x2="1509" y2="1339" stroke="#e02a2a"/>
<line x1="1427" y1="1425" x2="1463" y2="1425" stroke="#2f8fd8"/><line x1="1463" y1="1425" x2="1495" y2="1425" stroke="#f0a830"/>
<line x1="1411" y1="1451" x2="1463" y2="1451" stroke="#7fa8d8"/><line x1="1463" y1="1451" x2="1525" y2="1451" stroke="#f0a830"/>
<line x1="1463" y1="1478" x2="1534" y2="1478" stroke="#f0a830"/>
<line x1="1417" y1="1505" x2="1463" y2="1505" stroke="#2f8fd8"/><line x1="1463" y1="1505" x2="1522" y2="1505" stroke="#e02a2a"/>
<line x1="1449" y1="1530" x2="1463" y2="1530" stroke="#2f8fd8"/><line x1="1463" y1="1530" x2="1506" y2="1530" stroke="#e02a2a"/>
<line x1="1436" y1="1607" x2="1463" y2="1607" stroke="#2f8fd8"/><line x1="1463" y1="1607" x2="1498" y2="1607" stroke="#e02a2a"/>
<line x1="1410" y1="1632" x2="1463" y2="1632" stroke="#404040"/><line x1="1463" y1="1632" x2="1531" y2="1632" stroke="#2f8fd8"/>
<line x1="1463" y1="1657" x2="1534" y2="1657" stroke="#e02a2a"/>
<line x1="1405" y1="1686" x2="1463" y2="1686" stroke="#2f8fd8"/><line x1="1463" y1="1686" x2="1520" y2="1686" stroke="#e02a2a"/>
<line x1="1440" y1="1711" x2="1463" y2="1711" stroke="#2f8fd8"/><line x1="1463" y1="1711" x2="1495" y2="1711" stroke="#e02a2a"/>
<line x1="1426" y1="1796" x2="1463" y2="1796" stroke="#2f8fd8"/><line x1="1463" y1="1796" x2="1506" y2="1796" stroke="#e02a2a"/>
<line x1="1402" y1="1821" x2="1463" y2="1821" stroke="#2f8fd8"/><line x1="1463" y1="1821" x2="1531" y2="1821" stroke="#2f8fd8"/>
<line x1="1399" y1="1848" x2="1463" y2="1848" stroke="#7fa8d8"/><line x1="1463" y1="1848" x2="1534" y2="1848" stroke="#e02a2a"/>
<line x1="1416" y1="1877" x2="1463" y2="1877" stroke="#6bb34a"/><line x1="1463" y1="1877" x2="1525" y2="1877" stroke="#2f8fd8"/>
<line x1="1444" y1="1903" x2="1463" y2="1903" stroke="#6bb34a"/><line x1="1463" y1="1903" x2="1506" y2="1903" stroke="#e02a2a"/>
<line x1="1463" y1="1955" x2="1477" y2="1955" stroke="#e02a2a"/>
<line x1="1424" y1="1982" x2="1467" y2="1982" stroke="#a8c040"/><line x1="1467" y1="1982" x2="1509" y2="1982" stroke="#e02a2a"/>
</g>
<g fill="none">
<path stroke="#2a566c" stroke-width="21" d="M1540,1092 L1540,1099.5 c 0,33.1 -36.1,61.7 -74,91.5 c -37.9,29.8 -74,58.4 -74,91.5 c 0,33.1 36.1,61.7 74,91.5 c 37.9,29.8 74,58.4 74,91.5 c 0,33.1 -36.1,61.7 -74,91.5 c -37.9,29.8 -74,58.4 -74,91.5 c 0,33.1 36.1,61.7 74,91.5 c 37.9,29.8 74,58.4 74,91.5 c 0,33.1 -36.1,61.7 -74,91.5 c -37.9,29.8 -74,58.4 -74,91.5 l0,4"/>
<path stroke="#41788f" stroke-width="15" d="M1540,1092 L1540,1099.5 c 0,33.1 -36.1,61.7 -74,91.5 c -37.9,29.8 -74,58.4 -74,91.5 c 0,33.1 36.1,61.7 74,91.5 c 37.9,29.8 74,58.4 74,91.5 c 0,33.1 -36.1,61.7 -74,91.5 c -37.9,29.8 -74,58.4 -74,91.5 c 0,33.1 36.1,61.7 74,91.5 c 37.9,29.8 74,58.4 74,91.5 c 0,33.1 -36.1,61.7 -74,91.5 c -37.9,29.8 -74,58.4 -74,91.5 l0,4"/>
<path stroke="#557f8f" stroke-width="22" d="M1392,1092 L1392,1099.5 c 0,33.1 36.1,61.7 74,91.5 c 37.9,29.8 74,58.4 74,91.5 c 0,33.1 -36.1,61.7 -74,91.5 c -37.9,29.8 -74,58.4 -74,91.5 c 0,33.1 36.1,61.7 74,91.5 c 37.9,29.8 74,58.4 74,91.5 c 0,33.1 -36.1,61.7 -74,91.5 c -37.9,29.8 -74,58.4 -74,91.5 c 0,33.1 36.1,61.7 74,91.5 c 37.9,29.8 74,58.4 74,91.5 l0,4"/>
<path stroke="#bcd6dc" stroke-width="16" d="M1392,1092 L1392,1099.5 c 0,33.1 36.1,61.7 74,91.5 c 37.9,29.8 74,58.4 74,91.5 c 0,33.1 -36.1,61.7 -74,91.5 c -37.9,29.8 -74,58.4 -74,91.5 c 0,33.1 36.1,61.7 74,91.5 c 37.9,29.8 74,58.4 74,91.5 c 0,33.1 -36.1,61.7 -74,91.5 c -37.9,29.8 -74,58.4 -74,91.5 c 0,33.1 36.1,61.7 74,91.5 c 37.9,29.8 74,58.4 74,91.5 l0,4"/>
</g>

<g fill="none" stroke-linecap="round" stroke-linejoin="round">
<polyline stroke="#2f6a9a" stroke-width="15" points="1346,1750 1371,1737 1367,1715 1355,1709 1367,1696 1390,1690 1401,1700 1422,1709 1442,1725 1458,1737 1467,1750 1463,1728 1477,1715 1495,1722 1509,1709 1527,1703 1541,1715 1545,1740 1536,1759 1545,1772 1531,1775 1504,1772 1513,1791"/>
<polyline stroke="#2f6a9a" stroke-width="15" points="1444,1759 1467,1769 1490,1756 1495,1734 1477,1737"/>
<polyline stroke="#5b9ad0" stroke-width="10" points="1346,1750 1371,1737 1367,1715 1355,1709 1367,1696 1390,1690 1401,1700 1422,1709 1442,1725 1458,1737 1467,1750 1463,1728 1477,1715 1495,1722 1509,1709 1527,1703 1541,1715 1545,1740 1536,1759 1545,1772 1531,1775 1504,1772 1513,1791"/>
<polyline stroke="#5b9ad0" stroke-width="10" points="1444,1759 1467,1769 1490,1756 1495,1734 1477,1737"/>
</g>

<g fill="#fff" stroke="#111" stroke-width="2.5" stroke-linejoin="miter">
<path d="M1566,1230 H1616 V1211 L1646,1240 L1616,1268 V1249 H1566"/>
<path d="M1573,1468 H1632 V1451 L1662,1479 L1632,1507 V1488 H1573"/>
<path d="M1570,1723 H1630 V1704 L1658,1734 L1630,1763 V1744 H1570"/>
</g>

<ellipse cx="1760" cy="1290" rx="90" ry="88" fill="url(#gCell)"/>
<ellipse cx="1760" cy="1284" rx="47" ry="42" fill="url(#gCellIn)"/>
<ellipse cx="1944" cy="1313" rx="56" ry="55" fill="url(#gCell)"/>
<ellipse cx="1944" cy="1308" rx="27" ry="25" fill="url(#gCellIn)"/>

<g fill="none" stroke-linecap="round" stroke-linejoin="round">
<g stroke="#2f6a9a" stroke-width="17">
<polyline points="1747,1630 1772,1655 1779,1684 1806,1725"/>
<polyline points="1719,1684 1756,1681 1779,1684"/>
<polyline points="1818,1649 1841,1655 1850,1671 1861,1674 1857,1687 1838,1693"/>
<polyline points="1699,1725 1728,1718 1742,1734 1747,1759 1770,1775 1802,1769"/>
<polyline points="1747,1759 1710,1791"/>
<polyline points="1770,1775 1774,1816 1749,1832"/>
<polyline points="1774,1816 1806,1841"/>
<polyline points="1827,1734 1847,1718 1870,1734 1875,1747 1861,1759 1838,1769"/>
<polyline points="1861,1759 1875,1785 1879,1810 1900,1832"/>
<polyline points="1879,1810 1857,1822 1847,1848 1873,1876"/>
<polyline points="1857,1822 1827,1797"/>
</g>
<g stroke="#5b9ad0" stroke-width="11">
<polyline points="1747,1630 1772,1655 1779,1684 1806,1725"/>
<polyline points="1719,1684 1756,1681 1779,1684"/>
<polyline points="1818,1649 1841,1655 1850,1671 1861,1674 1857,1687 1838,1693"/>
<polyline points="1699,1725 1728,1718 1742,1734 1747,1759 1770,1775 1802,1769"/>
<polyline points="1747,1759 1710,1791"/>
<polyline points="1770,1775 1774,1816 1749,1832"/>
<polyline points="1774,1816 1806,1841"/>
<polyline points="1827,1734 1847,1718 1870,1734 1875,1747 1861,1759 1838,1769"/>
<polyline points="1861,1759 1875,1785 1879,1810 1900,1832"/>
<polyline points="1879,1810 1857,1822 1847,1848 1873,1876"/>
<polyline points="1857,1822 1827,1797"/>
</g>
</g>
<circle cx="1781" cy="1734" r="14" fill="#e01e1e"/>

<g class="t" font-size="42">
<text x="1710" y="1479" textLength="181" lengthAdjust="spacingAndGlyphs">Binding to</text>
<text x="1668" y="1529" textLength="269" lengthAdjust="spacingAndGlyphs">Specfic Protein</text>
<text x="1727" y="1936" textLength="184" lengthAdjust="spacingAndGlyphs">Binding to</text>
<text x="1725" y="1983" textLength="205" lengthAdjust="spacingAndGlyphs">Specifc Cell</text>
</g>
</svg>
</body></html>
